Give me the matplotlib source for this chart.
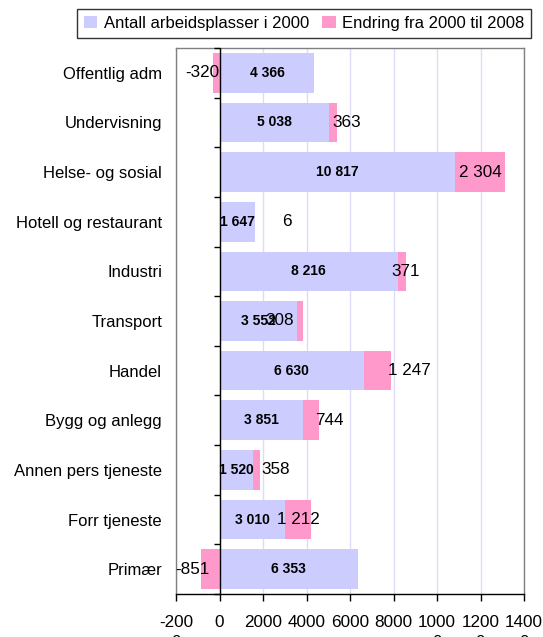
import matplotlib
matplotlib.use('Agg')
import matplotlib.pyplot as plt
from matplotlib.markers import TICKLEFT
from matplotlib.patches import Patch
import numpy as np

plt.rcParams['font.family'] = ['Liberation Sans', 'DejaVu Sans']

categories = ["Offentlig adm", "Undervisning", "Helse- og sosial", "Hotell og restaurant",
              "Industri", "Transport", "Handel", "Bygg og anlegg", "Annen pers tjeneste",
              "Forr tjeneste", "Primær"]
base_2000 = [4366, 5038, 10817, 1647, 8216, 3552, 6630, 3851, 1520, 3010, 6353]
change = [-320, 363, 2304, 6, 371, 308, 1247, 744, 358, 1212, -851]
base_labels = ["4 366", "5 038", "10 817", "1 647", "8 216", "3 552", "6 630", "3 851",
               "1 520", "3 010", "6 353"]
change_labels = ["-320", "363", "2 304", "6", "371", "308", "1 247", "744", "358", "1 212", "-851"]
# label anchor positions (x, data units) as placed in the reference
change_label_x = [-782, 5839, 12000, 3080, 8566, 2782, 8736, 5057, 2575, 3632, -1264]
xticks = [-2000, 0, 2000, 4000, 6000, 8000, 10000, 12000, 14000]
xtick_labels = ["-200\n0", "0", "2000", "4000", "6000", "8000", "1000\n0", "1200\n0", "1400\n0"]
legend_labels = ["Antall arbeidsplasser i 2000", "Endring fra 2000 til 2008"]

c_base = '#CCCCFF'
c_change = '#FF99CC'

W, H = 543, 637
fig = plt.figure(figsize=(W / 100, H / 100), dpi=100)
ax = fig.add_axes([176 / W, 1 - 594 / H, (524 - 176) / W, (594 - 48) / H])

y = np.arange(len(categories))
ax.barh(y, base_2000, height=0.8, color=c_base, zorder=2)
chg_left = [b if c >= 0 else 0 for b, c in zip(base_2000, change)]
ax.barh(y, change, left=chg_left, height=0.8, color=c_change, zorder=2)

for yi, b, lab in zip(y, base_2000, base_labels):
    ax.text(b / 2, yi, lab, ha='center', va='center', fontsize=10, fontweight='bold', zorder=4)
for yi, xl, lab in zip(y, change_label_x, change_labels):
    ax.text(xl, yi, lab, ha='center', va='center', fontsize=12.3, zorder=4)

ax.set_xlim(-2000, 14000)
ax.set_ylim(len(categories) - 0.5, -0.5)

ax.set_xticks(xticks)
ax.set_xticklabels(xtick_labels, fontsize=12.3, linespacing=1.4)
ax.tick_params(axis='x', direction='out', length=5, width=1, color='black', pad=10)
ax.set_yticks(y)
ax.set_yticklabels(categories, fontsize=12)
ax.tick_params(axis='y', length=0, pad=10)

ax.grid(axis='x', color='#DCDCF8', linewidth=1, zorder=0)
ax.set_axisbelow(True)

for s in ['left', 'top', 'right']:
    ax.spines[s].set_color('#808080')
    ax.spines[s].set_linewidth(1)
ax.spines['bottom'].set_color('black')
ax.spines['bottom'].set_linewidth(1)

# category axis at x = 0 with boundary tick marks
ax.axvline(0, color='black', linewidth=1, zorder=3)
bounds = np.arange(len(categories) + 1) - 0.5
ax.plot([0] * len(bounds), bounds, linestyle='none', marker=TICKLEFT, markersize=4,
        markeredgewidth=1, color='black', zorder=3, clip_on=False)

handles = [Patch(facecolor=c_base, edgecolor='none'), Patch(facecolor=c_change, edgecolor='none')]
leg = fig.legend(handles, legend_labels, loc='upper left', bbox_to_anchor=(77 / W, 1 - 9 / H),
                 ncol=2, fontsize=12, frameon=True, fancybox=False, shadow=False,
                 handlelength=0.8, handleheight=0.8, handletextpad=0.4, columnspacing=0.8,
                 borderpad=0.4, borderaxespad=0)
leg.get_frame().set_edgecolor('black')
leg.get_frame().set_linewidth(1)

fig.savefig('out.png', dpi=100)
